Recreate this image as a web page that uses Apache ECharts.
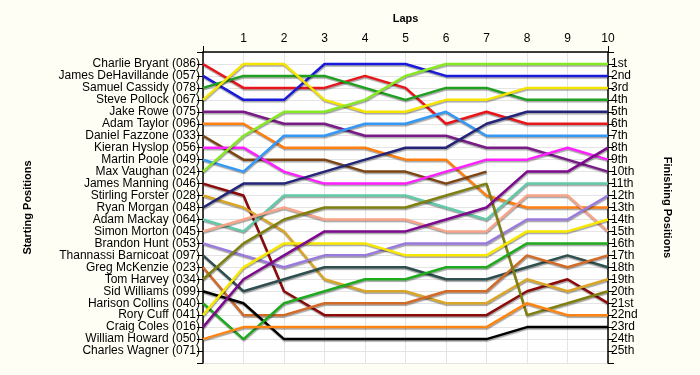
<!DOCTYPE html>
<html>
<head>
<meta charset="utf-8">
<script src="https://cdn.jsdelivr.net/npm/echarts@6/dist/echarts.min.js"></script>
<style>
html,body{margin:0;padding:0;background:#FFFEF4;}
#chart{width:700px;height:375px;}
</style>
</head>
<body>
<div id="chart"></div>
<script>
const laps = ['0','1','2','3','4','5','6','7','8','9','10'];
const startNames = ['Charlie Bryant (086)','James DeHavillande (057)','Samuel Cassidy (078)','Steve Pollock (067)','Jake Rowe (075)','Adam Taylor (096)','Daniel Fazzone (033)','Kieran Hyslop (056)','Martin Poole (049)','Max Vaughan (024)','James Manning (046)','Stirling Forster (028)','Ryan Morgan (048)','Adam Mackay (064)','Simon Morton (045)','Brandon Hunt (053)','Thannassi Barnicoat (097)','Greg McKenzie (023)','Tom Harvey (034)','Sid Williams (099)','Harison Collins (040)','Rory Cuff (041)','Craig Coles (016)','William Howard (050)','Charles Wagner (071)'];
const finishLabels = ['1st','2nd','3rd','4th','5th','6th','7th','8th','9th','10th','11th','12th','13th','14th','15th','16th','17th','18th','19th','20th','21st','22nd','23rd','24th','25th'];

const charlieBryant      = [1,3,3,3,2,3,6,5,6,6,6];
const jamesDeHavillande  = [2,4,4,1,1,1,2,2,2,2,2];
const samuelCassidy      = [3,2,2,2,3,4,3,3,4,4,4];
const stevePollock       = [4,1,1,4,5,5,4,4,3,3,3];
const jakeRowe           = [5,5,6,6,7,7,7,8,8,9,10];
const adamTaylor         = [6,6,8,8,8,9,9,12,13,13,13];
const danielFazzone      = [7,9,9,9,10,10,11,10,null,null,null];
const kieranHyslop       = [8,8,10,11,11,11,10,9,9,8,9];
const martinPoole        = [9,10,7,7,6,6,5,7,7,7,7];
const maxVaughan         = [10,7,5,5,4,2,1,1,1,1,1];
const jamesManning       = [11,12,20,22,22,22,22,22,20,19,21];
const stirlingForster    = [12,13,15,19,20,20,21,21,19,20,19];
const ryanMorgan         = [13,11,11,10,9,8,8,6,5,5,5];
const adamMackay         = [14,15,12,12,12,12,13,14,11,11,11];
const simonMorton        = [15,14,13,14,14,14,15,15,12,12,15];
const brandonHunt        = [16,17,18,17,17,16,16,16,14,14,12];
const thannassiBarnicoat = [17,20,19,18,18,18,19,19,18,17,18];
const gregMcKenzie       = [18,22,22,21,21,21,20,20,17,18,17];
const tomHarvey          = [19,16,14,13,13,13,12,11,22,21,20];
const sidWilliams        = [20,21,24,24,24,24,24,24,23,23,23];
const harisonCollins     = [21,24,21,20,19,19,18,18,16,16,16];
const roryCuff           = [22,18,16,16,16,17,17,17,15,15,14];
const craigColes         = [23,19,17,15,15,15,14,13,10,10,8];
const williamHoward      = [24,23,23,23,23,23,23,23,21,22,22];
const charlesWagner      = [null,null,null,null,null,null,null,null,null,null,null];

const driverData = [charlieBryant,jamesDeHavillande,samuelCassidy,stevePollock,jakeRowe,adamTaylor,danielFazzone,kieranHyslop,martinPoole,maxVaughan,jamesManning,stirlingForster,ryanMorgan,adamMackay,simonMorton,brandonHunt,thannassiBarnicoat,gregMcKenzie,tomHarvey,sidWilliams,harisonCollins,roryCuff,craigColes,williamHoward,charlesWagner];
const colors = ['#E8161B','#1A1ADB','#20A020','#F5E400','#7A1C88','#FF7F10','#7E4512','#FF20FF','#3598F5','#88E826','#8B0A0A','#D9A628','#242478','#63C9A8','#F7A488','#9A7ADD','#2F4F4F','#D26A28','#808010','#000000','#1FAA1F','#F8E800','#7E0A8E','#FF8512','#999999'];

const chart = echarts.init(document.getElementById('chart'), null, {renderer:'canvas'});
const font = 'Liberation Sans, Arial, sans-serif';
const series = driverData.map((d, i) => ({
  name: startNames[i],
  type: 'line',
  data: d,
  showSymbol: false,
  symbol: 'none',
  connectNulls: false,
  animation: false,
  silent: true,
  lineStyle: {
    color: colors[i], width: 2.5,
    shadowColor: 'rgba(0,0,0,0.35)', shadowBlur: 1, shadowOffsetX: 0.5, shadowOffsetY: 1.5
  },
  z: 2
}));

chart.setOption({
  backgroundColor: '#FFFEF4',
  animation: false,
  grid: {left: 203, top: 52, width: 405, height: 311, show: true, backgroundColor: '#FFFFFF', borderWidth: 0},
  xAxis: {
    type: 'category', data: laps, boundaryGap: false, position: 'top',
    name: 'Laps', nameLocation: 'middle', nameGap: 28,
    nameTextStyle: {fontFamily: font, fontSize: 11, fontWeight: 'bold', color: '#000'},
    axisLine: {show: true, lineStyle: {color: '#000', width: 1.5}},
    axisTick: {show: true, length: 6, interval: (i) => i === 0 || i === 10, lineStyle: {color: '#000'}},
    axisLabel: {interval: (i) => i > 0, fontFamily: font, fontSize: 12, color: '#000', margin: 7},
    splitLine: {show: true, interval: 0, lineStyle: {color: '#E4E4E4', width: 1}}
  },
  yAxis: [{
    type: 'value', min: 0, max: 26, interval: 1, inverse: true, position: 'left',
    name: 'Starting Positions', nameLocation: 'middle', nameGap: 170,
    nameTextStyle: {fontFamily: font, fontSize: 11, fontWeight: 'bold', color: '#000'},
    axisLine: {show: true, lineStyle: {color: '#000', width: 1.5}},
    axisTick: {show: true, length: 6, lineStyle: {color: '#000'}},
    axisLabel: {fontFamily: font, fontSize: 12, color: '#000', margin: 3,
      formatter: (v) => (v >= 1 && v <= 25) ? startNames[v - 1] : ''},
    splitLine: {show: true, lineStyle: {color: '#E4E4E4', width: 1}}
  }, {
    type: 'value', min: 0, max: 26, interval: 1, inverse: true, position: 'right',
    name: 'Finishing Positions', nameLocation: 'middle', nameGap: 54, nameRotate: -90,
    nameTextStyle: {fontFamily: font, fontSize: 11, fontWeight: 'bold', color: '#000'},
    axisLine: {show: true, lineStyle: {color: '#000', width: 1.5}},
    axisTick: {show: true, length: 6, lineStyle: {color: '#000'}},
    axisLabel: {fontFamily: font, fontSize: 12, color: '#000', margin: 3,
      formatter: (v) => (v >= 1 && v <= 25) ? finishLabels[v - 1] : ''},
    splitLine: {show: false}
  }],
  series: series
});
</script>
</body>
</html>
